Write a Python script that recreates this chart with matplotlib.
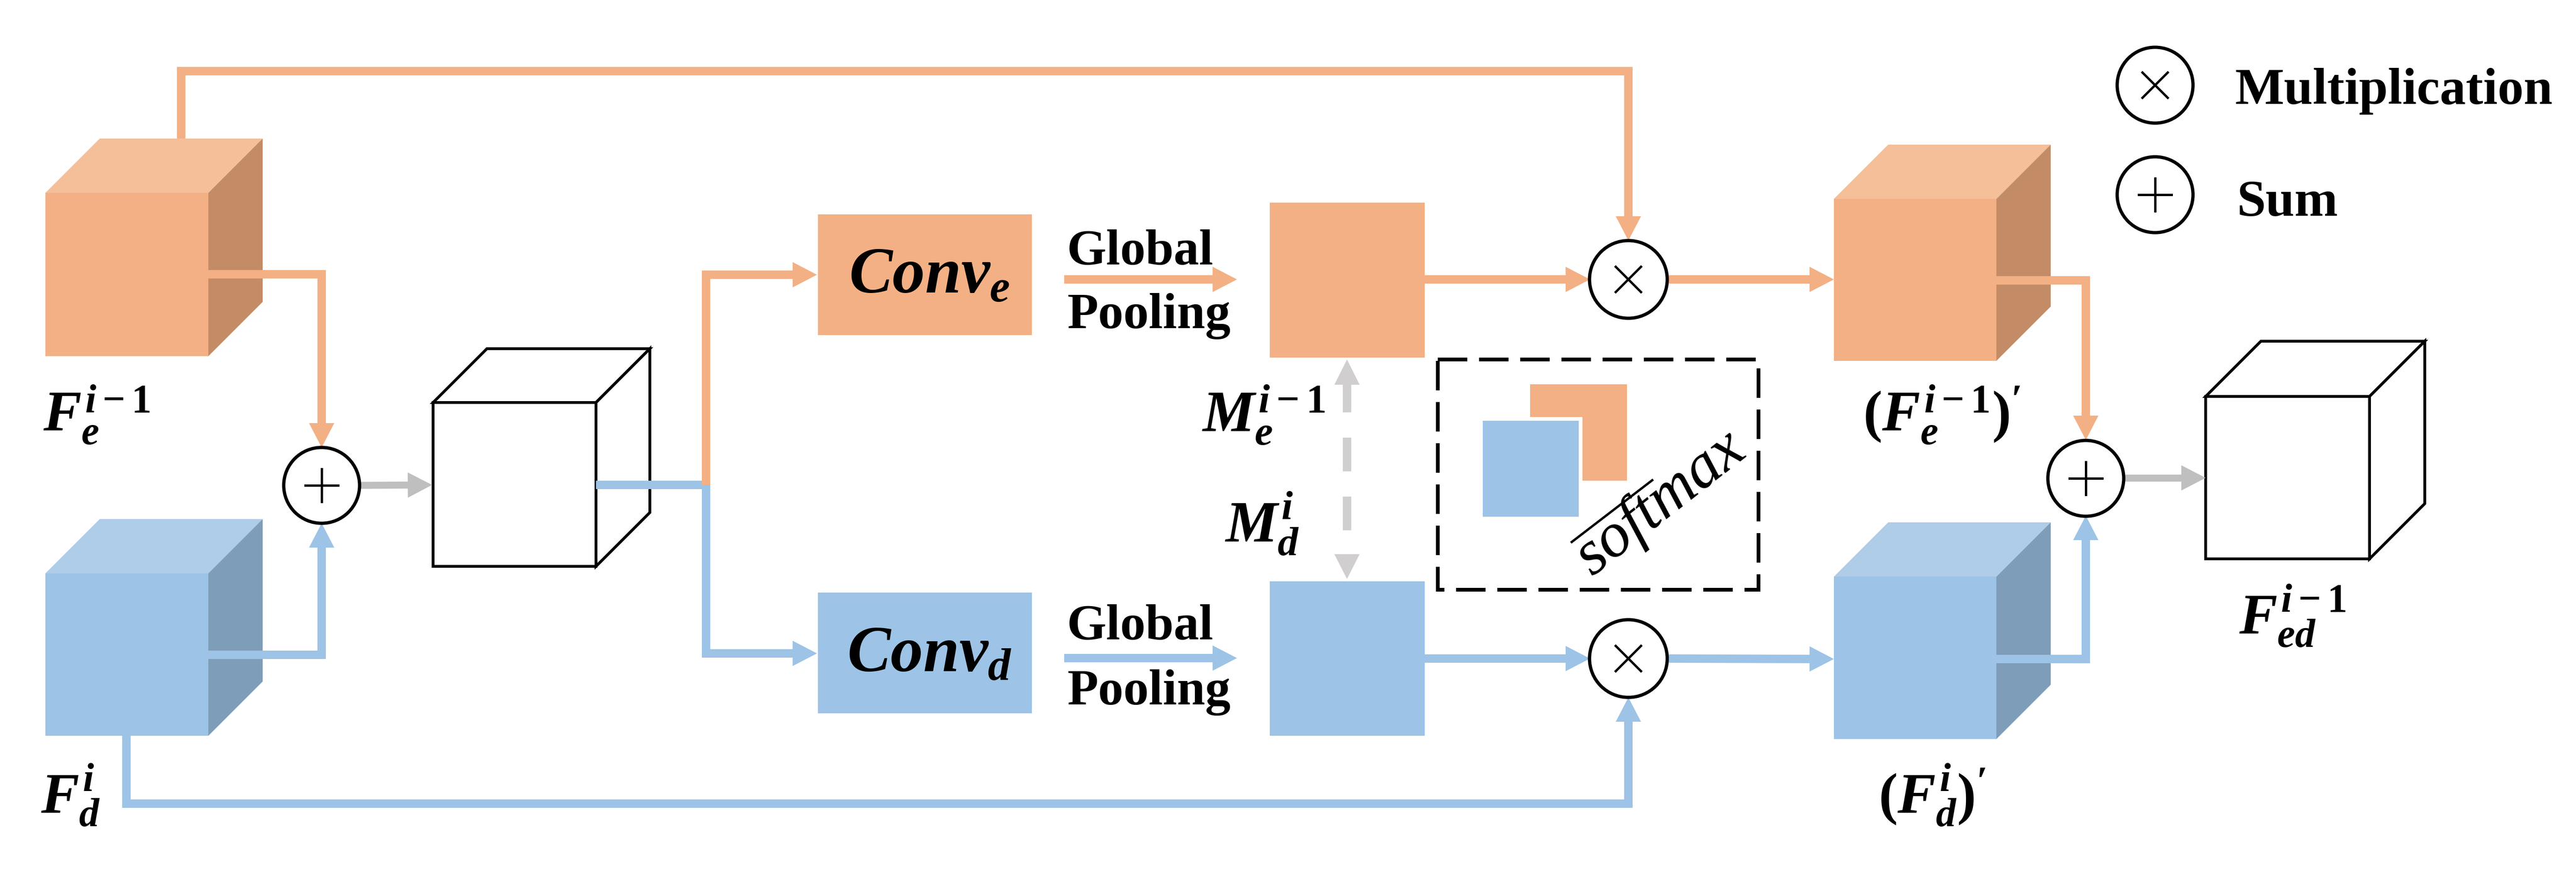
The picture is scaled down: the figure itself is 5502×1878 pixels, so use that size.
import matplotlib
matplotlib.use("Agg")
import matplotlib.pyplot as plt
from matplotlib.patches import Polygon, Rectangle, Circle
from matplotlib.lines import Line2D
import numpy as np

plt.rcParams['mathtext.fontset'] = 'custom'
plt.rcParams['mathtext.it'] = 'Liberation Serif:italic:bold'
plt.rcParams['mathtext.rm'] = 'Liberation Serif:bold'
plt.rcParams['mathtext.bf'] = 'Liberation Serif:bold'
plt.rcParams['mathtext.sf'] = 'Liberation Serif:bold'

W, H = 5502, 1878
PT = 0.72  # points per pixel at dpi 100

# colours
OR_FRONT, OR_TOP, OR_SIDE = '#F3B084', '#F4BF99', '#C38C66'
BL_FRONT, BL_TOP, BL_SIDE = '#9DC3E6', '#AFCCE8', '#7E9DB8'
GRAY, DGRAY = '#BFBFBF', '#D0CECE'

# labels
cube_labels = [r'$F_e^{i-1}$', r'$F_d^{i}$', r"$(F_e^{i-1})'$", r"$(F_d^{i})'$", r'$F_{ed}^{i-1}$']
cube_label_pos = [(92, 922), (87, 1737), (3979, 922), (4012, 1737), (4782, 1354)]
map_labels = [r'$M_e^{i-1}$', r'$M_d^{i}$']
map_label_pos = [(2567, 922), (2616, 1158)]
conv_labels = [r'$Conv_e$', r'$Conv_d$']
pool_text = ['Global', 'Pooling']
legend_text = ['Multiplication', 'Sum']

fig = plt.figure(figsize=(W / 100, H / 100), dpi=100)
ax = fig.add_axes([0, 0, 1, 1])
ax.set_xlim(0, W)
ax.set_ylim(H, 0)
ax.axis('off')


def cube(x0, y0, w, h, d, front, top, side, edge=None, z=2):
    lw = 6 * PT if edge else 0
    ec = edge if edge else 'none'
    fr = Polygon([(x0, y0), (x0 + w, y0), (x0 + w, y0 + h), (x0, y0 + h)], closed=True,
                 facecolor=front, edgecolor=ec, lw=lw, zorder=z, joinstyle='miter')
    tp = Polygon([(x0, y0), (x0 + d, y0 - d), (x0 + w + d, y0 - d), (x0 + w, y0)], closed=True,
                 facecolor=top, edgecolor=ec, lw=lw, zorder=z, joinstyle='miter')
    sd = Polygon([(x0 + w, y0), (x0 + w + d, y0 - d), (x0 + w + d, y0 + h - d), (x0 + w, y0 + h)],
                 closed=True, facecolor=side, edgecolor=ec, lw=lw, zorder=z, joinstyle='miter')
    for p in (fr, tp, sd):
        ax.add_patch(p)


def arrow(pts, color, lw_px=18, hl=52, hw=54, z=3, head=True):
    pts = [np.array(p, float) for p in pts]
    if head:
        end = pts[-1]
        prev = pts[-2]
        v = end - prev
        v = v / np.linalg.norm(v)
        base = end - v * hl
        line_pts = pts[:-1] + [base + v * 2]
    else:
        line_pts = pts
    xs = [p[0] for p in line_pts]
    ys = [p[1] for p in line_pts]
    ax.add_line(Line2D(xs, ys, color=color, lw=lw_px * PT, solid_capstyle='butt',
                       solid_joinstyle='miter', zorder=z))
    if head:
        n = np.array([-v[1], v[0]])
        tri = [end, base + n * hw / 2, base - n * hw / 2]
        ax.add_patch(Polygon(tri, closed=True, facecolor=color, edgecolor='none', zorder=z))


def op_circle(cx, cy, kind, r=81):
    ax.add_patch(Circle((cx, cy), r, facecolor='white', edgecolor='black', lw=7 * PT, zorder=5))
    if kind == '+':
        a = 35
        ax.add_line(Line2D([cx - a, cx + a], [cy, cy], color='black', lw=5 * PT, zorder=6))
        ax.add_line(Line2D([cx, cx], [cy - a, cy + a], color='black', lw=5 * PT, zorder=6))
    else:
        a = 27
        ax.add_line(Line2D([cx - a, cx + a], [cy - a, cy + a], color='black', lw=5 * PT, zorder=6))
        ax.add_line(Line2D([cx - a, cx + a], [cy + a, cy - a], color='black', lw=5 * PT, zorder=6))


# ---- cubes ----
cube(97, 412, 348, 349, 116, OR_FRONT, OR_TOP, OR_SIDE)
cube(97, 1225, 348, 347, 116, BL_FRONT, BL_TOP, BL_SIDE)
cube(925, 860, 348, 350, 115, 'white', 'white', 'white', edge='black')
cube(3917, 425, 347, 346, 116, OR_FRONT, OR_TOP, OR_SIDE)
cube(3917, 1232, 347, 347, 116, BL_FRONT, BL_TOP, BL_SIDE)
cube(4711, 847, 350, 347, 118, 'white', 'white', 'white', edge='black')

# ---- conv boxes & maps ----
ax.add_patch(Rectangle((1747, 458), 457, 258, facecolor=OR_FRONT, edgecolor='none', zorder=2))
ax.add_patch(Rectangle((1747, 1266), 457, 258, facecolor=BL_FRONT, edgecolor='none', zorder=2))
ax.add_patch(Rectangle((2712, 433), 331, 331, facecolor=OR_FRONT, edgecolor='none', zorder=2))
ax.add_patch(Rectangle((2712, 1242), 331, 330, facecolor=BL_FRONT, edgecolor='none', zorder=2))

# ---- operator circles ----
op_circle(687, 1037, '+')
op_circle(4455, 1022, '+')
op_circle(3478, 597, 'x', r=83)
op_circle(3478, 1407, 'x', r=83)
op_circle(4603, 182, 'x')
op_circle(4603, 416, '+')

# ---- connections ----
# left side
arrow([(445, 586), (687, 586), (687, 956)], OR_FRONT)
arrow([(445, 1399), (687, 1399), (687, 1118)], BL_FRONT)
arrow([(767, 1037), (923, 1036)], GRAY, lw_px=15)
arrow([(1273, 1036), (1508, 1036), (1508, 1396), (1745, 1396)], BL_FRONT)
arrow([(1508, 1036), (1508, 587), (1745, 587)], OR_FRONT)
# top line
arrow([(387, 296), (387, 152), (3478, 152), (3478, 514)], OR_FRONT)
# bottom line
arrow([(270, 1572), (270, 1717), (3478, 1717), (3478, 1490)], BL_FRONT)
# global pooling arrows
arrow([(2273, 597), (2642, 597)], OR_FRONT)
arrow([(2273, 1406), (2642, 1406)], BL_FRONT)
# map -> multiply
arrow([(3043, 597), (3396, 597)], OR_FRONT)
arrow([(3043, 1407), (3396, 1407)], BL_FRONT)
# multiply -> cubes
arrow([(3560, 597), (3917, 597)], OR_FRONT)
arrow([(3560, 1407), (3917, 1408)], BL_FRONT)
# right cubes -> sum
arrow([(4264, 599), (4455, 599), (4455, 940)], OR_FRONT)
arrow([(4264, 1408), (4455, 1408), (4455, 1102)], BL_FRONT)
arrow([(4538, 1021), (4711, 1021)], GRAY, lw_px=15)

# dashed double arrow between maps
ax.add_patch(Polygon([(2877, 768), (2850, 822), (2904, 822)], closed=True, facecolor=DGRAY,
                     edgecolor='none', zorder=3))
ax.add_patch(Polygon([(2877, 1237), (2850, 1184), (2904, 1184)], closed=True, facecolor=DGRAY,
                     edgecolor='none', zorder=3))
ax.add_line(Line2D([2877, 2877], [822, 1184], color=DGRAY, lw=18 * PT, zorder=3,
                   linestyle=(13 / 18, (72 / 18, 54 / 18)), dash_capstyle='butt'))

# softmax dashed box
ax.add_patch(Rectangle((3071, 768), 685, 492, facecolor='none', edgecolor='black', lw=8 * PT,
                       linestyle=(0, (63 / 8, 25 / 8)), zorder=3))
ax.add_patch(Rectangle((3268, 821), 207, 206, facecolor=OR_FRONT, edgecolor='none', zorder=3))
ax.add_patch(Rectangle((3159, 891), 221, 221, facecolor='white', edgecolor='none', zorder=4))
ax.add_patch(Rectangle((3167, 899), 205, 205, facecolor=BL_FRONT, edgecolor='none', zorder=5))
ax.add_line(Line2D([3357, 3529], [1158, 1026], color='black', lw=5 * PT, zorder=5))
ax.text(3400, 1232, 'softmax', family='Liberation Serif', style='italic', fontsize=98,
        rotation=38, rotation_mode='anchor', ha='left', va='baseline', zorder=6)

# ---- texts ----
for lab, (x, y) in zip(cube_labels, cube_label_pos):
    ax.text(x, y, lab, fontsize=88, ha='left', va='baseline', zorder=7)
for lab, (x, y) in zip(map_labels, map_label_pos):
    ax.text(x, y, lab, fontsize=90, ha='left', va='baseline', zorder=7)
ax.text(1985, 587, conv_labels[0], fontsize=100, ha='center', va='center', zorder=7)
ax.text(1985, 1395, conv_labels[1], fontsize=100, ha='center', va='center', zorder=7)
for yc in (539, 1340):
    ax.text(2279, yc + 26, pool_text[0], family='Liberation Serif', weight='bold', fontsize=78,
            ha='left', va='baseline', zorder=7)
for yc in (675, 1479):
    ax.text(2279, yc + 26, pool_text[1], family='Liberation Serif', weight='bold', fontsize=78,
            ha='left', va='baseline', zorder=7)
ax.text(4773, 222, legend_text[0], family='Liberation Serif', weight='bold', fontsize=80,
        ha='left', va='baseline', zorder=7)
ax.text(4777, 461, legend_text[1], family='Liberation Serif', weight='bold', fontsize=80,
        ha='left', va='baseline', zorder=7)

fig.savefig('out.png', dpi=100, facecolor='white')
